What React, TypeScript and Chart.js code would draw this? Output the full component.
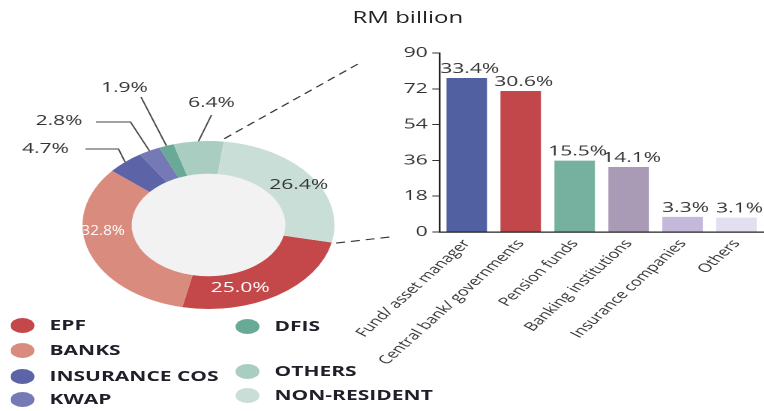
import React, { useEffect, useRef } from 'react';
import { Chart, registerables } from 'chart.js';

Chart.register(...registerables);

// ---- Data ----
const holderLabels = ['EPF', 'BANKS', 'INSURANCE COS', 'KWAP', 'DFIS', 'OTHERS', 'NON-RESIDENT'];
const holderShares = [25.0, 32.8, 4.7, 2.8, 1.9, 6.4, 26.4];
const holderColors = ['#c4484a', '#d98b7d', '#5d63a7', '#7579b5', '#69aa97', '#a9cec1', '#c9ded6'];

const investorLabels = [
  'Fund/ asset manager',
  'Central bank/ governments',
  'Pension funds',
  'Banking institutions',
  'Insurance companies',
  'Others',
];
const investorValues = [77.4, 70.9, 35.9, 32.7, 7.6, 7.2];
const investorShares = [33.4, 30.6, 15.5, 14.1, 3.3, 3.1];
const investorColors = ['#5060a1', '#c1474a', '#76b09f', '#a99ab6', '#c4b9da', '#e3dff0'];
const yTicks = [0, 18, 36, 54, 72, 90];
const yTitle = 'RM billion';

// ---- Layout (logical px, whole picture is stretched 1.5x horizontally) ----
const FONT = "'Open Sans', 'DejaVu Sans', sans-serif";
const STRETCH = 1.5;
const LOGICAL_W = 509;
const H = 411;

const insideLabelLayout = [
  { i: 0, f: 0.66, r: 0.79, color: '#ffffff', maxW: 0 },
  { i: 1, f: 0.62, r: 0.84, color: '#ffffff', maxW: 29 },
  { i: 6, f: 0.52, r: 0.86, color: '#333333', maxW: 0 },
];
const outsideLabelLayout = [
  { i: 2, pts: [[-60, -76], [-82, -76]], text: [-93, -76], align: 'right' },
  { i: 3, pts: [[-52, -103], [-75, -103]], text: [-84, -104], align: 'right' },
  { i: 4, pts: [[-45, -128]], text: [-56, -137], align: 'center' },
  { i: 5, pts: [[2, -110]], text: [2, -122], align: 'center' },
];
const dashTargets = [
  [102, -163],
  [121, 12],
];

const legendLayout = [
  { i: 0, x: 15, y: 325 },
  { i: 1, x: 15, y: 350 },
  { i: 2, x: 15, y: 376 },
  { i: 3, x: 15, y: 399 },
  { i: 4, x: 165, y: 326 },
  { i: 5, x: 165, y: 371 },
  { i: 6, x: 165, y: 395 },
];

const fmt = (v: number) => v.toFixed(1) + '%';

const donutDecor = {
  id: 'donutDecor',
  beforeDatasetsDraw(chart: any) {
    const arc = chart.getDatasetMeta(0).data[0];
    if (!arc) return;
    const { ctx } = chart;
    ctx.save();
    ctx.fillStyle = '#f2f2f2';
    ctx.beginPath();
    ctx.arc(arc.x, arc.y, arc.innerRadius, 0, Math.PI * 2);
    ctx.fill();
    ctx.restore();
  },
  afterDatasetsDraw(chart: any) {
    const { ctx } = chart;
    const arcs = chart.getDatasetMeta(0).data;
    const a0 = arcs[0];
    const cx = a0.x;
    const cy = a0.y;
    const R = a0.outerRadius;
    ctx.save();
    ctx.font = `14px ${FONT}`;
    ctx.textBaseline = 'middle';

    // inside labels
    insideLabelLayout.forEach((l) => {
      const a = arcs[l.i];
      const ang = a.startAngle + l.f * (a.endAngle - a.startAngle);
      const r = R * l.r;
      ctx.fillStyle = l.color;
      ctx.textAlign = 'center';
      const tx = cx + r * Math.cos(ang);
      const ty = cy + r * Math.sin(ang);
      if (l.maxW) ctx.fillText(fmt(holderShares[l.i]), tx, ty, l.maxW);
      else ctx.fillText(fmt(holderShares[l.i]), tx, ty);
    });

    // outside labels with leader lines
    ctx.strokeStyle = '#444';
    ctx.lineWidth = 1;
    outsideLabelLayout.forEach((l) => {
      const a = arcs[l.i];
      const mid = (a.startAngle + a.endAngle) / 2;
      ctx.beginPath();
      ctx.moveTo(cx + R * Math.cos(mid), cy + R * Math.sin(mid));
      l.pts.forEach((p) => ctx.lineTo(cx + p[0], cy + p[1]));
      ctx.stroke();
      ctx.fillStyle = '#333';
      ctx.textAlign = l.align as CanvasTextAlign;
      ctx.fillText(fmt(holderShares[l.i]), cx + l.text[0], cy + l.text[1]);
    });

    // dashed connectors from the NON-RESIDENT slice
    const nr = arcs[6];
    ctx.setLineDash([6, 4]);
    ctx.strokeStyle = '#333';
    ctx.lineWidth = 1.1;
    [nr.startAngle, nr.endAngle].forEach((ang: number, k: number) => {
      const r = R + 3;
      ctx.beginPath();
      ctx.moveTo(cx + r * Math.cos(ang), cy + r * Math.sin(ang));
      ctx.lineTo(cx + dashTargets[k][0], cy + dashTargets[k][1]);
      ctx.stroke();
    });
    ctx.restore();
  },
};

const barLabels = {
  id: 'barLabels',
  afterDatasetsDraw(chart: any) {
    const { ctx } = chart;
    const bars = chart.getDatasetMeta(0).data;
    ctx.save();
    ctx.font = `14px ${FONT}`;
    ctx.fillStyle = '#333';
    ctx.textAlign = 'center';
    ctx.textBaseline = 'bottom';
    bars.forEach((b: any, i: number) => {
      ctx.fillText(fmt(investorShares[i]), b.x + 2, b.y - 2);
    });
    ctx.restore();
  },
};

export default function App() {
  const donutRef = useRef<HTMLCanvasElement>(null);
  const barRef = useRef<HTMLCanvasElement>(null);

  useEffect(() => {
    Chart.defaults.font.family = FONT;
    const donut = new Chart(donutRef.current!, {
      type: 'doughnut',
      data: {
        labels: holderLabels,
        datasets: [
          {
            data: holderShares,
            backgroundColor: holderColors,
            borderWidth: 0,
            hoverOffset: 0,
          },
        ],
      },
      options: {
        responsive: false,
        animation: false,
        devicePixelRatio: 2,
        rotation: 102,
        cutout: '61%',
        layout: { padding: { left: 55, top: 141, right: 77, bottom: 102 } },
        plugins: { legend: { display: false }, tooltip: { enabled: false } },
        events: [],
      },
      plugins: [donutDecor],
    } as any);

    const bar = new Chart(barRef.current!, {
      type: 'bar',
      data: {
        labels: investorLabels,
        datasets: [
          {
            data: investorValues,
            backgroundColor: investorColors,
            borderWidth: 0,
            barPercentage: 0.75,
            categoryPercentage: 1,
          },
        ],
      },
      options: {
        responsive: false,
        animation: false,
        devicePixelRatio: 2,
        layout: { padding: { left: 0, top: 53, right: 0, bottom: 0 } },
        plugins: { legend: { display: false }, tooltip: { enabled: false } },
        events: [],
        scales: {
          x: {
            offset: true,
            grid: { display: false, drawTicks: false },
            border: { display: true, color: '#222', width: 1.2 },
            ticks: {
              autoSkip: false,
              maxRotation: 53,
              minRotation: 53,
              padding: 5,
              color: '#333',
              font: { size: 12, family: FONT },
            },
            afterFit: (s: any) => {
              s.height = H - 232;
            },
          },
          y: {
            min: 0,
            max: 90,
            grid: {
              display: true,
              drawOnChartArea: false,
              drawTicks: true,
              tickLength: 5,
              color: '#333',
            },
            border: { display: true, color: '#222', width: 1.2 },
            ticks: {
              padding: 3,
              color: '#333',
              font: { size: 14, family: FONT },
            },
            afterBuildTicks: (s: any) => {
              s.ticks = yTicks.map((v) => ({ value: v }));
            },
            afterFit: (s: any) => {
              s.width = 62;
            },
          },
        },
      },
      plugins: [barLabels],
    } as any);

    return () => {
      donut.destroy();
      bar.destroy();
    };
  }, []);

  return (
    <div
      style={{
        position: 'absolute',
        left: 0,
        top: 0,
        width: LOGICAL_W,
        height: H,
        transform: `scaleX(${STRETCH})`,
        transformOrigin: '0 0',
        overflow: 'hidden',
        background: '#ffffff',
        fontFamily: FONT,
      }}
    >
      <canvas ref={donutRef} width={300} height={H} style={{ position: 'absolute', left: 0, top: 0 }} />
      <canvas ref={barRef} width={279} height={H} style={{ position: 'absolute', left: 230, top: 0 }} />
      <div
        style={{
          position: 'absolute',
          left: 235,
          top: 7,
          fontSize: 16,
          lineHeight: '20px',
          color: '#222',
          whiteSpace: 'nowrap',
        }}
      >
        {yTitle}
      </div>
      {legendLayout.map((l) => (
        <React.Fragment key={l.i}>
          <div
            style={{
              position: 'absolute',
              left: l.x - 8,
              top: l.y - 7.5,
              width: 16,
              height: 15,
              borderRadius: '50%',
              background: holderColors[l.i],
            }}
          />
          <div
            style={{
              position: 'absolute',
              left: l.x + 18,
              top: l.y - 10,
              lineHeight: '20px',
              fontSize: 14,
              fontWeight: 700,
              color: '#1f1f2a',
              whiteSpace: 'nowrap',
            }}
          >
            {holderLabels[l.i]}
          </div>
        </React.Fragment>
      ))}
    </div>
  );
}
